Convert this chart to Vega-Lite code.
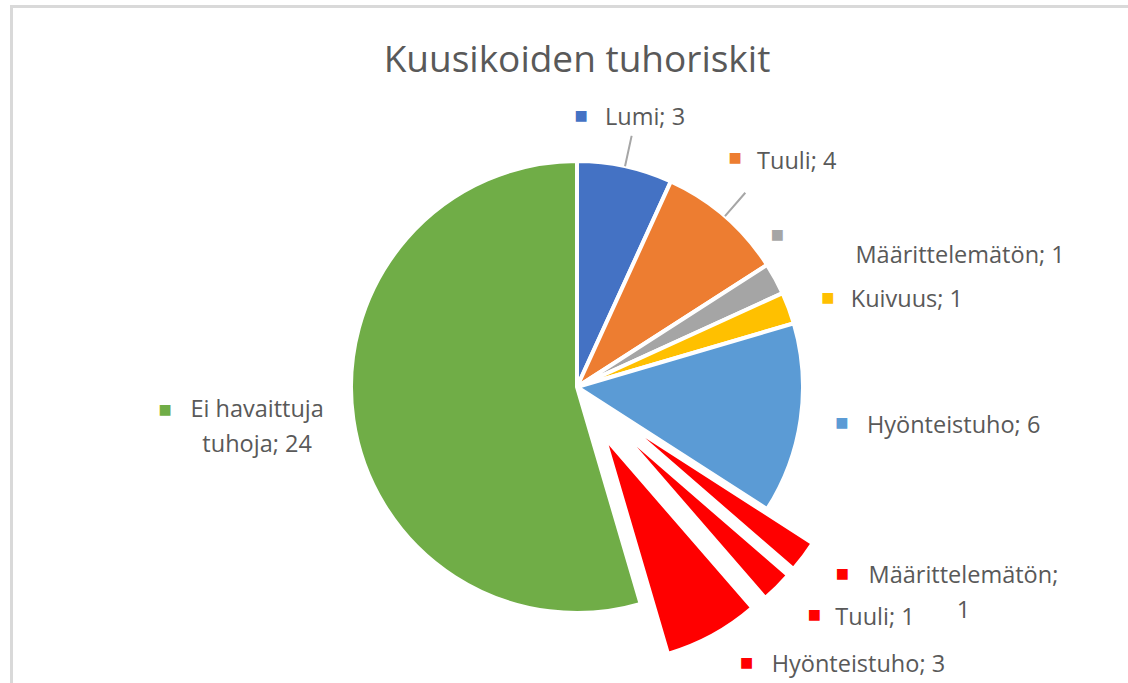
{
  "$schema": "https://vega.github.io/schema/vega-lite/v6.json",
  "width": 1131,
  "height": 761,
  "autosize": {"type": "none"},
  "padding": {"left": 11.5, "top": 6.5, "right": -14.5, "bottom": -84.5},
  "background": "white",
  "view": {"stroke": "#D9D9D9", "strokeWidth": 3},
  "title": {
    "text": "Kuusikoiden tuhoriskit",
    "font": "Open Sans",
    "fontSize": 37,
    "fontWeight": "normal",
    "color": "#595959",
    "anchor": "middle",
    "frame": "group",
    "baseline": "alphabetic",
    "offset": -66.5,
    "dy": 36
  },
  "data": {
    "values": [
      {"id": "lumi", "kategoria": "Lumi", "arvo": 3, "jarjestys": 1, "label": "Lumi; 3"},
      {"id": "tuuli", "kategoria": "Tuuli", "arvo": 4, "jarjestys": 2, "label": "Tuuli; 4"},
      {"id": "maar", "kategoria": "Määrittelemätön", "arvo": 1, "jarjestys": 3, "label": "Määrittelemätön; 1"},
      {"id": "kuiv", "kategoria": "Kuivuus", "arvo": 1, "jarjestys": 4, "label": "Kuivuus; 1"},
      {"id": "hyon", "kategoria": "Hyönteistuho", "arvo": 6, "jarjestys": 5, "label": "Hyönteistuho; 6"},
      {"id": "maar_r", "kategoria": "Määrittelemätön", "arvo": 1, "jarjestys": 6, "label": ["Määrittelemätön;", "1"]},
      {"id": "tuuli_r", "kategoria": "Tuuli", "arvo": 1, "jarjestys": 7, "label": "Tuuli; 1"},
      {"id": "hyon_r", "kategoria": "Hyönteistuho", "arvo": 3, "jarjestys": 8, "label": "Hyönteistuho; 3"},
      {"id": "ei", "kategoria": "Ei havaittuja tuhoja", "arvo": 24, "jarjestys": 9, "label": ["Ei havaittuja", "tuhoja; 24"]}
    ]
  },
  "transform": [
    {"stack": "arvo", "groupby": [], "sort": [{"field": "jarjestys", "order": "ascending"}], "as": ["t0", "t1"]}
  ],
  "encoding": {
    "theta": {"field": "t0", "type": "quantitative", "stack": null, "scale": {"domain": [0, 44]}},
    "color": {
      "field": "id",
      "type": "nominal",
      "legend": null,
      "scale": {
        "domain": ["lumi", "tuuli", "maar", "kuiv", "hyon", "maar_r", "tuuli_r", "hyon_r", "ei"],
        "range": ["#4472C4", "#ED7D31", "#A5A5A5", "#FFC000", "#5B9BD5", "#FF0000", "#FF0000", "#FF0000", "#70AD47"]
      }
    }
  },
  "layer": [
    {
      "transform": [{"filter": {"field": "id", "oneOf": ["lumi", "tuuli", "maar", "kuiv", "hyon", "ei"]}}],
      "mark": {"type": "arc", "outerRadius": 226, "stroke": "white", "strokeWidth": 4},
      "encoding": {"theta2": {"field": "t1"}}
    },
    {
      "transform": [{"filter": "datum.id === 'maar_r'"}],
      "mark": {"type": "arc", "outerRadius": 226, "stroke": "white", "strokeWidth": 4, "xOffset": 45.6, "yOffset": 34.1},
      "encoding": {"theta2": {"field": "t1"}}
    },
    {
      "transform": [{"filter": "datum.id === 'tuuli_r'"}],
      "mark": {"type": "arc", "outerRadius": 226, "stroke": "white", "strokeWidth": 4, "xOffset": 40.3, "yOffset": 40.3},
      "encoding": {"theta2": {"field": "t1"}}
    },
    {
      "transform": [{"filter": "datum.id === 'hyon_r'"}],
      "mark": {"type": "arc", "outerRadius": 226, "stroke": "white", "strokeWidth": 4, "xOffset": 27.3, "yOffset": 50.0},
      "encoding": {"theta2": {"field": "t1"}}
    },
    {
      "transform": [{"filter": {"field": "id", "oneOf": ["lumi", "tuuli"]}}],
      "mark": {"type": "arc", "innerRadius": 226, "outerRadius": 257, "padAngle": 1, "stroke": "#A6A6A6", "strokeWidth": 2},
      "encoding": {"theta2": {"field": "t1"}, "color": {"value": "#A6A6A6"}}
    },
    {
      "transform": [{"filter": "datum.id === 'lumi'"}],
      "mark": {"type": "text", "radius": 224, "align": "left", "baseline": "alphabetic", "dx": 28, "dy": -38, "font": "Open Sans", "fontSize": 23.5},
      "encoding": {"text": {"field": "label", "type": "nominal"}, "color": {"value": "#595959"}}
    },
    {
      "transform": [{"filter": "datum.id === 'lumi'"}],
      "mark": {"type": "text", "radius": 224, "align": "center", "baseline": "middle", "dx": 4, "dy": -47, "font": "DejaVu Sans", "fontSize": 14, "text": "■"}
    },
    {
      "transform": [{"filter": "datum.id === 'tuuli'"}],
      "mark": {"type": "text", "radius": 224, "align": "left", "baseline": "alphabetic", "dx": 87, "dy": -14, "font": "Open Sans", "fontSize": 23.5},
      "encoding": {"text": {"field": "label", "type": "nominal"}, "color": {"value": "#595959"}}
    },
    {
      "transform": [{"filter": "datum.id === 'tuuli'"}],
      "mark": {"type": "text", "radius": 224, "align": "center", "baseline": "middle", "dx": 65, "dy": -25, "font": "DejaVu Sans", "fontSize": 14, "text": "■"}
    },
    {
      "transform": [{"filter": "datum.id === 'maar'"}],
      "mark": {"type": "text", "radius": 224, "align": "left", "baseline": "alphabetic", "dx": 90, "dy": -3, "font": "Open Sans", "fontSize": 23.5},
      "encoding": {"text": {"field": "label", "type": "nominal"}, "color": {"value": "#595959"}}
    },
    {
      "transform": [{"filter": "datum.id === 'maar'"}],
      "mark": {"type": "text", "radius": 224, "align": "center", "baseline": "middle", "dx": 12, "dy": -31, "font": "DejaVu Sans", "fontSize": 14, "text": "■"}
    },
    {
      "transform": [{"filter": "datum.id === 'kuiv'"}],
      "mark": {"type": "text", "radius": 224, "align": "left", "baseline": "alphabetic", "dx": 70, "dy": 13, "font": "Open Sans", "fontSize": 23.5},
      "encoding": {"text": {"field": "label", "type": "nominal"}, "color": {"value": "#595959"}}
    },
    {
      "transform": [{"filter": "datum.id === 'kuiv'"}],
      "mark": {"type": "text", "radius": 224, "align": "center", "baseline": "middle", "dx": 47, "dy": 4, "font": "DejaVu Sans", "fontSize": 14, "text": "■"}
    },
    {
      "transform": [{"filter": "datum.id === 'hyon'"}],
      "mark": {"type": "text", "radius": 224, "align": "left", "baseline": "alphabetic", "dx": 75, "dy": 109, "font": "Open Sans", "fontSize": 23.5},
      "encoding": {"text": {"field": "label", "type": "nominal"}, "color": {"value": "#595959"}}
    },
    {
      "transform": [{"filter": "datum.id === 'hyon'"}],
      "mark": {"type": "text", "radius": 224, "align": "center", "baseline": "middle", "dx": 50, "dy": 99, "font": "DejaVu Sans", "fontSize": 14, "text": "■"}
    },
    {
      "transform": [{"filter": "datum.id === 'maar_r'"}],
      "mark": {"type": "text", "radius": 224, "align": "center", "baseline": "alphabetic", "dx": 198, "dy": 75, "lineHeight": 35, "font": "Open Sans", "fontSize": 23.5},
      "encoding": {"text": {"field": "label", "type": "nominal"}, "color": {"value": "#595959"}}
    },
    {
      "transform": [{"filter": "datum.id === 'maar_r'"}],
      "mark": {"type": "text", "radius": 224, "align": "center", "baseline": "middle", "dx": 77, "dy": 66, "font": "DejaVu Sans", "fontSize": 14, "text": "■"}
    },
    {
      "transform": [{"filter": "datum.id === 'tuuli_r'"}],
      "mark": {"type": "text", "radius": 224, "align": "left", "baseline": "alphabetic", "dx": 89, "dy": 91, "font": "Open Sans", "fontSize": 23.5},
      "encoding": {"text": {"field": "label", "type": "nominal"}, "color": {"value": "#595959"}}
    },
    {
      "transform": [{"filter": "datum.id === 'tuuli_r'"}],
      "mark": {"type": "text", "radius": 224, "align": "center", "baseline": "middle", "dx": 68, "dy": 81, "font": "DejaVu Sans", "fontSize": 14, "text": "■"}
    },
    {
      "transform": [{"filter": "datum.id === 'hyon_r'"}],
      "mark": {"type": "text", "radius": 224, "align": "left", "baseline": "alphabetic", "dx": 48, "dy": 116, "font": "Open Sans", "fontSize": 23.5},
      "encoding": {"text": {"field": "label", "type": "nominal"}, "color": {"value": "#595959"}}
    },
    {
      "transform": [{"filter": "datum.id === 'hyon_r'"}],
      "mark": {"type": "text", "radius": 224, "align": "center", "baseline": "middle", "dx": 23, "dy": 107, "font": "DejaVu Sans", "fontSize": 14, "text": "■"}
    },
    {
      "transform": [{"filter": "datum.id === 'ei'"}],
      "mark": {"type": "text", "radius": 224, "align": "center", "baseline": "alphabetic", "dx": -383, "dy": -185, "lineHeight": 35, "font": "Open Sans", "fontSize": 23.5},
      "encoding": {"text": {"field": "label", "type": "nominal"}, "color": {"value": "#595959"}}
    },
    {
      "transform": [{"filter": "datum.id === 'ei'"}],
      "mark": {"type": "text", "radius": 224, "align": "center", "baseline": "middle", "dx": -475, "dy": -192, "font": "DejaVu Sans", "fontSize": 14, "text": "■"}
    }
  ]
}
